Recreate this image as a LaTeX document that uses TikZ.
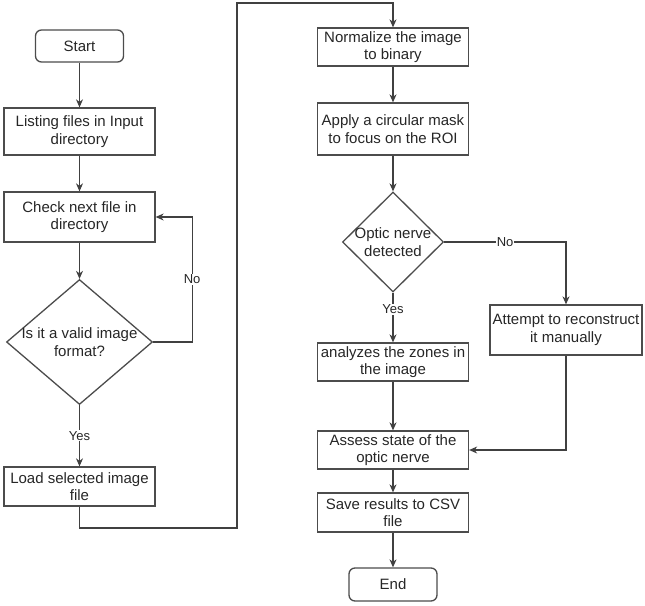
\documentclass[tikz,border=0pt]{standalone}
\usepackage{fontspec}
\setmainfont{Liberation Sans}
\usetikzlibrary{shapes.geometric,arrows.meta}
\begin{document}
\begin{tikzpicture}[x=1pt,y=-1pt,
  every node/.style={text=black!85},
  box/.style={draw=black!70,line width=1.3pt,inner sep=0pt,align=center,
    font=\fontsize{15}{17.5}\selectfont},
  term/.style={box,rounded corners=6pt},
  dia/.style={draw=black!70,line width=1.3pt,diamond,inner sep=0pt,
    label={[align=center,font=\fontsize{15}{17.5}\selectfont,text=black!85]center:#1}},
  arr/.style={draw=black!75,line width=1.1pt,-{Stealth[length=8pt,width=7pt,inset=2.5pt]}},
  lab/.style={fill=white,inner sep=1pt,font=\fontsize{13}{15}\selectfont}]
\useasboundingbox (0,0) rectangle (645,605);
% left column
\node[term,minimum width=88pt,minimum height=32pt] (start) at (79.5,46) {Start};
\node[box,minimum width=151pt,minimum height=47pt] (list) at (79.5,131.5) {Listing files in Input\\directory};
\node[box,minimum width=151pt,minimum height=50pt] (check) at (79.5,217) {Check next file in\\directory};
\node[dia={Is it a valid image\\format?},minimum width=146pt,minimum height=125pt] (d1) at (79.5,342) {};
\node[box,minimum width=151pt,minimum height=39pt] (load) at (79.5,486.5) {Load selected image\\file};
% right column
\node[box,minimum width=151pt,minimum height=38pt] (norm) at (393,47) {Normalize the image\\to binary};
\node[box,minimum width=151pt,minimum height=52pt] (apply) at (393,129) {Apply a circular mask\\to focus on the ROI};
\node[dia={Optic nerve\\detected},minimum width=101pt,minimum height=100pt] (d2) at (393,242) {};
\node[box,minimum width=152pt,minimum height=50pt] (att) at (566,330) {Attempt to reconstruct\\it manually};
\node[box,minimum width=151pt,minimum height=38pt] (ana) at (393,362) {analyzes the zones in\\the image};
\node[box,minimum width=151pt,minimum height=38pt] (assess) at (393,450) {Assess state of the\\optic nerve};
\node[box,minimum width=151pt,minimum height=39pt] (save) at (393,512.5) {Save results to CSV\\file};
\node[term,minimum width=88pt,minimum height=33pt] (end) at (393,584.5) {End};
% connectors
\draw[arr] (start) -- (list);
\draw[arr] (list) -- (check);
\draw[arr] (check) -- (d1);
\draw[arr] (d1.east) -- ++(39,0) |- node[lab,pos=0.25] {No} (check.east);
\draw[arr] (d1.south) -- node[lab,pos=0.5] {Yes} (load.north);
\draw[arr] (load.south) |- (237,528) -- (237,3) -| (norm.north);
\draw[arr] (norm) -- (apply);
\draw[arr] (apply) -- (d2);
\draw[arr] (d2.east) -| node[lab,pos=0.25] {No} (att.north);
\draw[arr] (d2.south) -- node[lab,pos=0.33] {Yes} (ana.north);
\draw[arr] (ana) -- (assess);
\draw[arr] (att.south) |- (assess.east);
\draw[arr] (assess) -- (save);
\draw[arr] (save) -- (end);
\end{tikzpicture}
\end{document}
